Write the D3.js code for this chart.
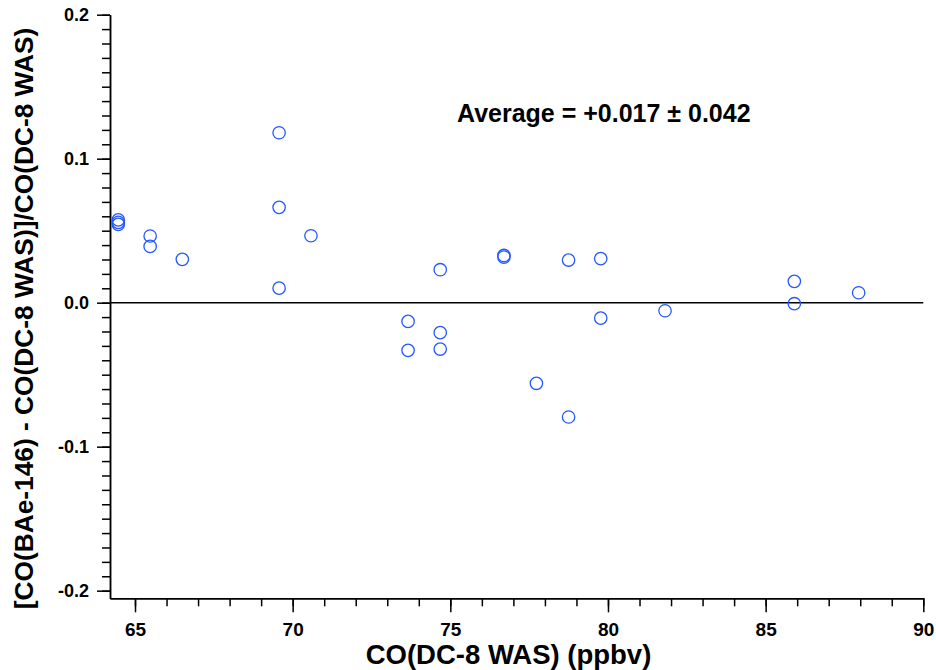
<!DOCTYPE html>
<html>
<head>
<meta charset="utf-8">
<script src="https://cdn.jsdelivr.net/npm/d3@7"></script>
<style>
  html, body { margin: 0; padding: 0; background: #fff; }
  svg { display: block; font-family: "Liberation Sans", Arial, sans-serif; font-weight: bold; }
  .axis path, .axis line { stroke: #000; stroke-width: 1.5; }
  .axis text { fill: #000; font-weight: bold; font-family: "Liberation Sans", Arial, sans-serif; }
</style>
</head>
<body>
<svg id="chart" width="936" height="670"></svg>
<script>
// CO from the DC-8 whole-air samples (ppbv)
const coDC8 = [
  64.47, 64.47, 64.47, 65.48, 65.48, 66.50,
  69.57, 69.57, 69.57, 70.58,
  73.66, 73.66, 74.68, 74.68, 74.68,
  76.70, 76.70, 77.73, 78.75, 78.75,
  79.77, 79.77, 81.81, 85.91, 85.91, 87.95
];
// Relative difference (BAe-146 minus DC-8) / DC-8
const relDiff = [
  0.0575, 0.0558, 0.0544, 0.0463, 0.0391, 0.0301,
  0.1180, 0.0662, 0.0101, 0.0465,
  -0.0130, -0.0331, 0.0229, -0.0208, -0.0322,
  0.0328, 0.0317, -0.0560, 0.0296, -0.0794,
  0.0306, -0.0107, -0.0056, 0.0148, -0.0007, 0.0069
];

const xTickValues = [65, 70, 75, 80, 85, 90];
const xMinorValues = d3.range(65, 91, 1);
const yTickValues = [-0.2, -0.1, 0.0, 0.1, 0.2];
const yTickLabels = ["-0.2", "-0.1", "0.0", "0.1", "0.2"];
const yMinorValues = d3.range(-20, 21, 1).map(d => d / 100);

const averageValue = "+0.017";
const spreadValue = "0.042";

const xTitle = "CO(DC-8 WAS) (ppbv)";
const yTitle = "[CO(BAe-146) - CO(DC-8 WAS)]/CO(DC-8 WAS)";

const svg = d3.select("#chart");

const x = d3.scaleLinear().domain([64.207, 90]).range([110, 923.3]);
const y = d3.scaleLinear().domain([-0.2053, 0.2]).range([598.3, 14.7]);

function styleAxis(g, size) {
  g.attr("font-family", "'Liberation Sans', Arial, sans-serif")
   .attr("font-weight", "bold")
   .attr("font-size", size);
  g.selectAll("text").attr("font-size", size).attr("font-weight", "bold");
}

// minor ticks (no labels)
svg.append("g")
  .attr("class", "axis")
  .attr("transform", `translate(0,${y.range()[0]})`)
  .call(d3.axisBottom(x).tickValues(xMinorValues).tickSize(8).tickSizeOuter(0).tickFormat(""));
svg.append("g")
  .attr("class", "axis")
  .attr("transform", `translate(${x.range()[0]},0)`)
  .call(d3.axisLeft(y).tickValues(yMinorValues).tickSize(8).tickSizeOuter(0).tickFormat(""));

// major ticks with labels
svg.append("g")
  .attr("class", "axis")
  .attr("transform", `translate(0,${y.range()[0]})`)
  .call(d3.axisBottom(x).tickValues(xTickValues).tickSize(14).tickSizeOuter(0).tickPadding(10).tickFormat(d3.format("d")))
  .call(styleAxis, 19);

svg.append("g")
  .attr("class", "axis")
  .attr("transform", `translate(${x.range()[0]},0)`)
  .call(d3.axisLeft(y).tickValues(yTickValues).tickSize(13).tickSizeOuter(0).tickPadding(8)
    .tickFormat((d, i) => yTickLabels[i]))
  .call(styleAxis, 18);

// zero reference line
svg.append("line")
  .attr("x1", x.range()[0]).attr("x2", x.range()[1])
  .attr("y1", y(0)).attr("y2", y(0))
  .attr("stroke", "#000").attr("stroke-width", 1.6);

// data points
svg.append("g")
  .selectAll("circle")
  .data(coDC8.map((v, i) => [v, relDiff[i]]))
  .join("circle")
  .attr("cx", d => x(d[0]))
  .attr("cy", d => y(d[1]))
  .attr("r", 6.2)
  .attr("fill", "none")
  .attr("stroke", "#2358ff")
  .attr("stroke-width", 1.3);

// annotation
svg.append("text")
  .attr("x", 457).attr("y", 122)
  .attr("font-size", 25)
  .attr("fill", "#000")
  .text(`Average = ${averageValue} \u00b1 ${spreadValue}`);

// axis titles
svg.append("text")
  .attr("x", 508.5).attr("y", 664)
  .attr("text-anchor", "middle")
  .attr("font-size", 27.5)
  .attr("fill", "#000")
  .text(xTitle);

svg.append("text")
  .attr("transform", "translate(33,318.5) rotate(-90)")
  .attr("text-anchor", "middle")
  .attr("font-size", 26.3)
  .attr("fill", "#000")
  .text(yTitle);
</script>
</body>
</html>
